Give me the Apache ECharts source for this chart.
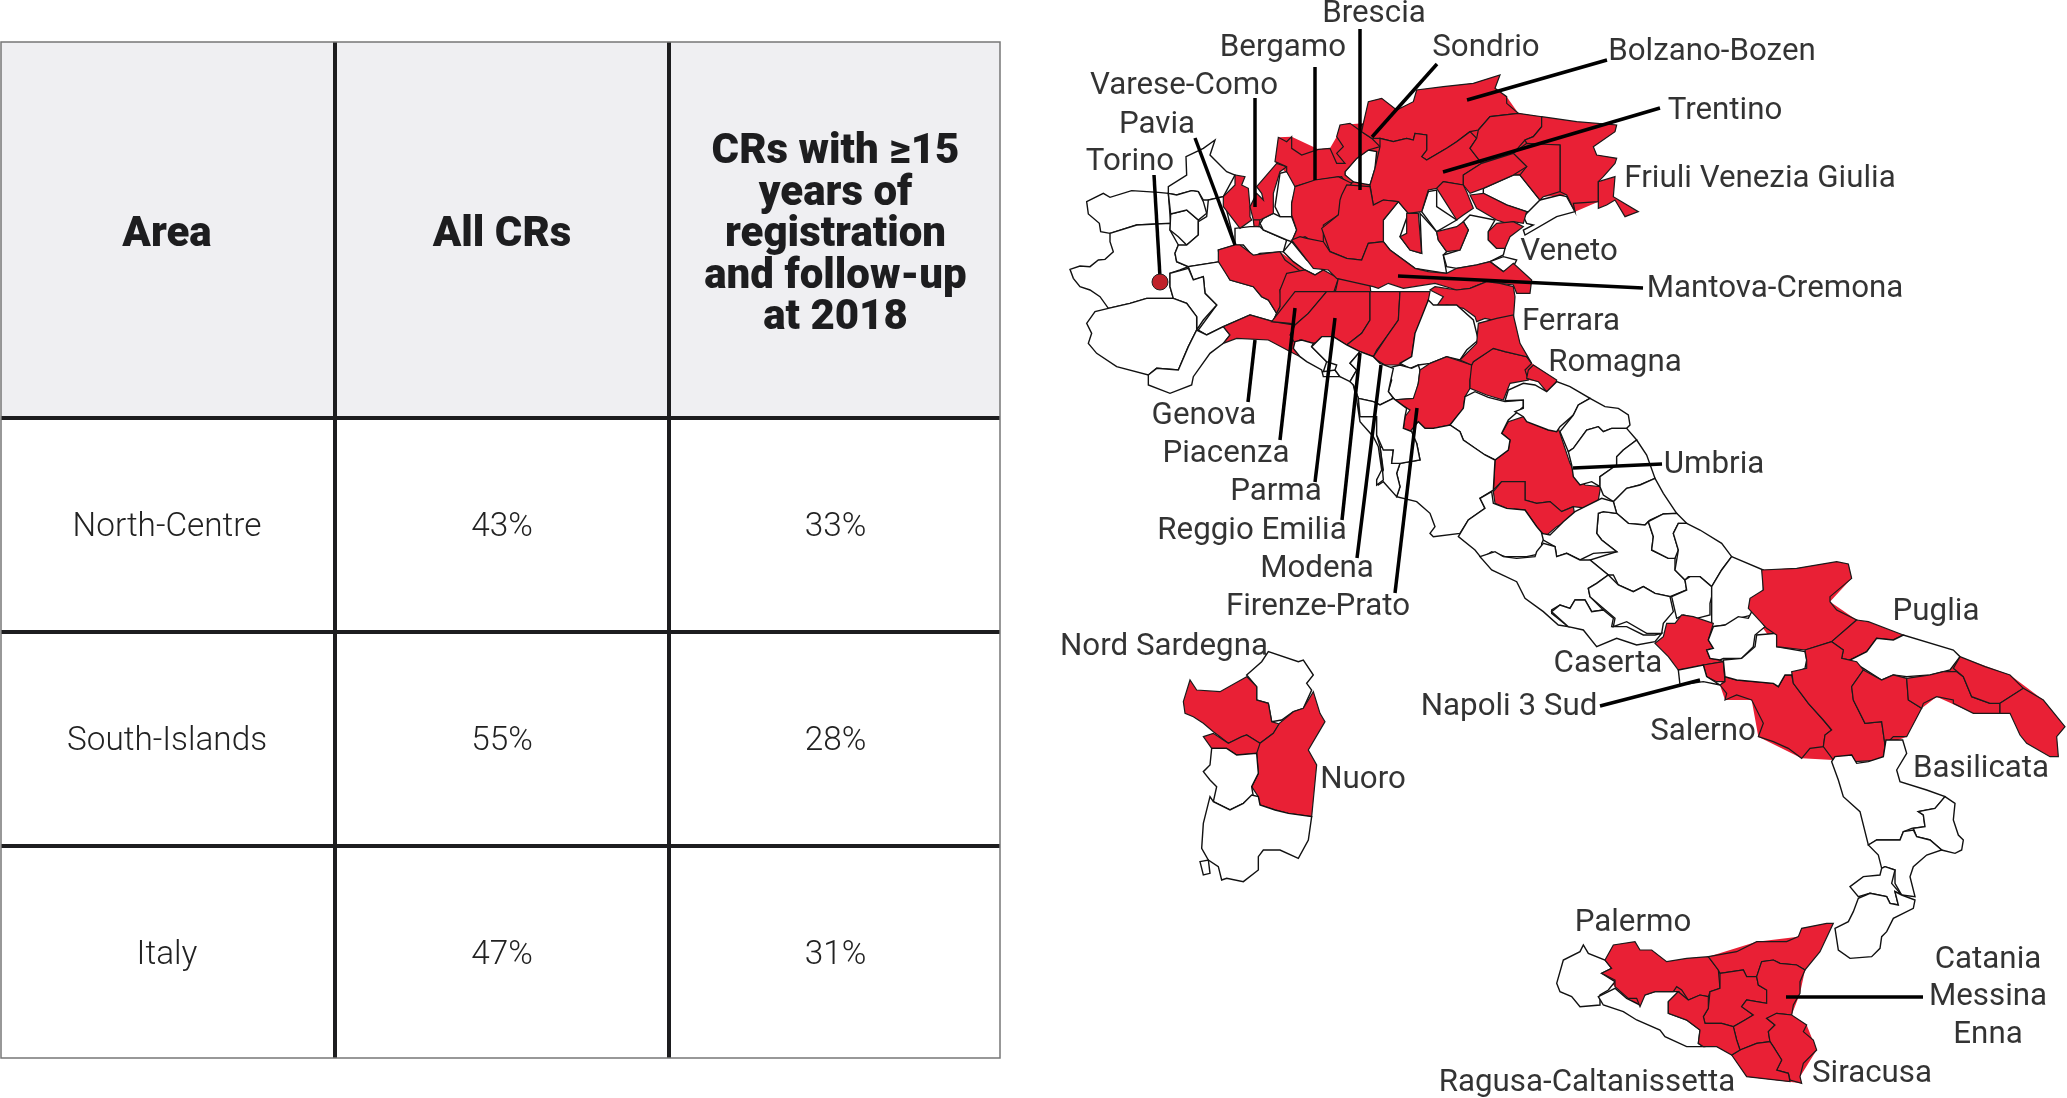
<!DOCTYPE html>
<html>
<head>
    <meta charset="utf-8">
    <title>ECharts</title>
    <script type="text/javascript" src="https://cdn.jsdelivr.net/npm/echarts@6/dist/echarts.min.js"></script>
    <style>html,body{margin:0;padding:0;background:#fff}</style>
</head>
<body>
    <div id="main" style="width:2067px;height:1098px;"></div>
    <script type="text/javascript">
        // table
        var cornerTitle = 'Area';
        var columnTitles = ['All CRs', 'CRs with ≥15\nyears of\nregistration\nand follow-up\nat 2018'];
        var rowTitles = ['North-Centre', 'South-Islands', 'Italy'];
        var allCRs = ['43%', '55%', '47%'];
        var longCRs = ['33%', '28%', '31%'];

        // areas with a cancer registry, painted red
        var redAreas = ['Varese', 'Como', 'Lecco', 'Sondrio', 'Bergamo', 'Brescia', 'Bolzano', 'Trento', 'Belluno',
            'Friuli', 'Trieste', 'Pordenone', 'Treviso', 'Vicenza', 'Padova', 'Venezia', 'Rovigo', 'Garda',
            'Pavia', 'Piacenza', 'Parma2', 'Genova', 'Cremona', 'Ferrara', 'Ravenna', 'Forli', 'Rimini',
            'Parma', 'Reggio', 'Modena', 'Bologna', 'Firenze', 'Perugia', 'Terni', 'Caserta', 'Napoli3',
            'Salerno', 'Foggia', 'Barletta', 'Potenza', 'Matera', 'Taranto', 'Brindisi', 'Lecce',
            'Palermo', 'Messina', 'Enna', 'CataniaArea', 'SiracusaArea', 'RagusaArea', 'Caltanissetta',
            'Sassari', 'Oristano', 'NuoroArea'];
        // red fill under the provinces, so no slits show between neighbours
        var redBases = ['BaseNord', 'BasePadana', 'BaseEmilia', 'BaseRomagna', 'BaseSud', 'BaseSicilia'];

        // map labels, anchors in map units
        var labelNames = ['Brescia', 'Bergamo', 'Sondrio', 'Bolzano-Bozen', 'Varese-Como', 'Trentino', 'Pavia', 'Torino',
            'Friuli Venezia Giulia', 'Veneto', 'Mantova-Cremona', 'Ferrara', 'Romagna', 'Genova', 'Umbria', 'Piacenza',
            'Parma', 'Reggio Emilia', 'Modena', 'Firenze-Prato', 'Puglia', 'Nord Sardegna', 'Caserta', 'Napoli 3 Sud',
            'Salerno', 'Basilicata', 'Nuoro', 'Palermo', 'Catania', 'Messina', 'Enna', 'Siracusa', 'Ragusa-Caltanissetta'];
        var labelSpots = [[1374, 12], [1283, 46], [1486, 46], [1712, 50], [1184, 84], [1725, 109], [1157, 123], [1130, 160],
            [1760, 177], [1569, 250], [1775, 287], [1571, 320], [1615, 361], [1204, 414], [1714, 463], [1226, 452],
            [1276, 490], [1252, 529], [1317, 567], [1318, 605], [1936, 610], [1164, 645], [1608, 662], [1509, 705],
            [1703, 730], [1981, 767], [1363, 778], [1633, 921], [1988, 958], [1988, 995], [1988, 1033], [1872, 1072], [1587, 1081]];
        // leader lines
        var leaderEnds = [
            [[1255, 98], [1255, 207]], [[1195, 138], [1235, 245]], [[1154, 175], [1160, 277]],
            [[1315, 67], [1315, 180]], [[1360, 29], [1360, 190]], [[1437, 64], [1372, 137]],
            [[1607, 60], [1467, 100]], [[1660, 108], [1443, 172]], [[1398, 276], [1643, 288]],
            [[1255, 340], [1248, 402]], [[1295, 308], [1280, 440]], [[1335, 318], [1315, 482]],
            [[1360, 353], [1342, 520]], [[1381, 365], [1357, 558]], [[1417, 408], [1395, 593]],
            [[1573, 468], [1662, 464]], [[1600, 706], [1700, 680]], [[1786, 997], [1923, 997]]
        ];
        var torinoSpot = [1160, 282];

        var outlineGroups = [
            [1300, 60, {
                BaseNord: '-40,340 -75,305 -65,232 -25,230 55,268 90,265 110,230 120,195 190,190 205,125 245,115 290,150 340,125 350,90 430,80 520,70 600,45 585,85 620,110 655,160 725,170 830,185 950,195 945,215 880,260 890,285 950,295 895,365 895,425 825,455 800,405 730,410 660,345 550,385 510,400 490,375 430,365 410,385 385,390 365,455 325,460 295,425 220,435 250,480 250,545 205,550 185,600 90,575 -25,540 -25,430 -15,380'
            }],
            [1060, 60, {
                BasePadana: '475,570 580,585 660,575 735,630 835,655 930,675 935,720 860,840 880,880 800,830 710,800 705,840 720,890 625,840 530,835 490,850 510,825 490,800 570,765 640,785 650,760 665,730 660,690 625,720 580,680 510,660'
            }],
            [1180, 300, {
                BaseEmilia: '275,65 300,-20 750,-20 725,50 705,100 695,170 660,195 590,180 540,155 500,135 460,110 400,130 345,130 330,70',
                BaseRomagna: '840,180 890,130 895,70 950,55 1000,45 1020,130 1055,190 1130,240 1125,265 1100,275 1075,245 1045,240 990,250 970,300 870,265 855,290 850,325 810,375 735,385 695,395 670,385 690,330 640,300 700,295 720,210 750,190 800,170'
            }],
            [1560, 540, {
                BaseSud: '605,90 710,85 830,65 865,72 875,115 810,185 890,240 815,305 850,330 845,355 910,390 965,420 1040,415 1170,390 1200,350 1350,405 1450,480 1515,560 1490,590 1495,650 1400,610 1350,520 1240,520 1130,470 1085,505 1040,590 975,615 970,660 820,660 725,655 595,590 575,480 495,480 480,435 495,410 640,430 675,405 740,385 735,330 650,320 565,205 610,150'
            }],
            [1540, 760, {
                BaseSicilia: '195,600 220,555 285,545 300,570 335,570 380,605 505,590 650,545 775,530 785,505 880,490 795,630 780,700 755,765 800,795 830,870 780,950 785,970 620,950 575,885 530,860 490,860 480,810 440,780 385,760 385,725 415,695 345,695 300,740 265,715 225,680 185,640 215,625'
            }],
            [1060, 60, {
                Aosta: '80,425 130,400 150,412 215,392 295,397 325,400 332,490 230,495 150,520 122,515 118,490 85,462',
                Torino: '150,520 230,495 332,490 330,510 355,555 345,580 350,605 385,620 360,630 330,640 330,680 340,715 260,715 210,730 145,745 120,710 90,690 60,680 40,655 30,628 60,618 90,620 115,600 135,598 160,575 150,545',
                Verbano: '325,400 325,380 380,345 378,290 430,265 465,240 450,285 500,335 525,345 490,410 445,420 430,420 415,395 395,392 350,405',
                Biella: '332,462 380,450 415,480 415,525 380,555 355,530 330,510',
                Novara: '325,400 350,405 395,392 415,395 430,425 440,460 415,480 380,450 332,462',
                Vercelli: '355,555 380,555 415,525 415,485 440,470 445,420 490,410 525,555 475,570 480,605 385,620 350,605 345,580',
                Alessandria: '385,620 480,605 510,660 580,680 605,710 625,720 650,760 640,785 570,765 490,800 440,825 415,810 470,735 435,700 430,650 400,660',
                Asti: '330,640 385,625 400,660 430,650 435,700 470,735 430,780 410,810 410,770 380,730 340,715 330,680',
                Cuneo: '80,790 105,755 145,745 210,730 260,715 340,715 380,730 410,770 410,810 385,860 355,930 290,925 265,945 170,920 110,880 85,850 95,820',
                Imperia: '265,945 290,925 355,930 385,860 410,810 440,825 490,800 510,825 490,850 450,880 400,950 395,975 330,1000 265,975',
                Milano: '525,505 570,500 600,500 610,510 680,540 670,575 600,580 580,590 550,555 525,555',
                Lodi: '600,490 610,475 640,460 660,470 695,470 710,510 695,545 680,540 610,510',
                Lario: '645,440 660,340 680,335 710,375 695,430 695,470 660,470',
                Cremasco: '670,575 695,545 740,600 790,630 765,645 735,630 700,605',
                Varese: '490,410 525,375 525,345 555,350 545,375 565,385 570,440 570,470 575,480 540,505 490,440',
                Como: '590,380 650,310 680,320 660,335 640,400 640,460 600,480 580,480 570,440 590,400 610,420 605,400',
                Lecco: '580,480 600,480 597,500 582,498',
                Pavia: '475,570 525,555 540,555 580,585 660,575 675,600 730,640 690,640 660,690 665,730 650,760 625,720 605,710 580,680 510,660 475,605',
                Piacenza: '680,640 735,630 765,645 790,630 835,655 820,700 775,740 740,770 705,795 640,780 660,740 660,690',
                Parma2: '835,655 885,660 930,675 935,720 890,780 860,840 880,880 800,830 750,830 710,800 740,770 780,735 825,700',
                Genova: '490,800 570,765 640,785 700,795 705,840 720,890 700,880 625,840 530,835 490,850 510,825'
            }],
            [1300, 60, {
                Verona: '250,480 295,425 325,460 300,530 330,570 365,580 360,460 410,515 415,540 440,575 430,585 440,640 345,625 270,570 250,545',
                Vicentino: '365,455 385,395 410,390 410,440 470,480 410,515',
                Padovano: '430,585 480,570 505,510 490,485 510,465 585,480 565,515 565,540 590,565 615,565 610,585 570,605 530,615 470,625 440,620',
                Laguna: '550,385 640,345 660,345 720,420 715,455 680,455 620,435 550,400',
                Costa: '670,470 720,420 780,405 800,410 825,455 770,470 675,525 670,510 700,495 680,490',
                Delta: '570,605 610,590 650,600 640,620 610,635',
                Lago: '135,335 170,295 205,270 230,275 225,325 210,375 155,365 135,345',
                Isola: '185,195 205,185 210,210 195,215',
                Sondrio: '-75,305 -65,232 -40,245 -25,230 -25,265 5,285 55,268 90,265 110,310 135,310 110,280 130,260 110,230 120,195 150,190 185,215 215,235 240,260 205,270 170,295 135,335 135,345 160,365 140,375 125,350 50,360 -15,380 -40,335 -40,320',
                Bolzano: '190,190 205,125 245,115 290,150 340,125 350,90 430,80 520,70 600,45 585,85 620,110 620,130 655,160 570,170 535,210 510,215 470,245 440,265 380,300 365,290 380,270 380,225 345,220 340,240 320,235 280,245 240,235 215,235 185,215',
                Trento: '240,235 280,245 320,235 340,240 345,220 380,225 380,270 365,290 380,300 440,265 470,245 510,215 530,235 510,265 545,310 490,345 490,375 430,365 410,385 385,390 365,455 325,460 295,425 250,420 220,435 210,375 225,325 240,260',
                Belluno: '535,210 570,170 655,160 725,170 725,200 700,230 675,240 640,280 545,310 510,265 530,235',
                Friuli: '725,170 830,185 950,195 945,215 880,260 890,285 950,295 945,310 910,350 895,365 895,425 820,430 825,455 800,405 780,395 780,255 740,255 680,250 675,240 700,230 725,200',
                Trieste: '895,365 945,350 940,410 1015,455 975,470 945,420 920,435 895,445',
                Pordenone: '640,280 680,250 780,255 780,395 730,410 720,420 660,345 680,320',
                Treviso: '490,345 545,310 640,280 680,320 640,345 550,385 510,400 490,375',
                Vicenza: '410,385 430,365 490,375 500,395 520,445 490,465 470,480 445,440',
                Padova: '510,405 550,400 620,435 680,455 670,490 640,485 620,490 590,480 530,445',
                Venezia: '565,515 590,490 640,485 670,500 630,530 615,565 590,565 565,540',
                Rovigo: '410,515 470,500 490,485 505,510 480,570 440,575 415,540',
                Garda: '320,460 355,460 365,580 330,570 300,530 320,520',
                Bergamo: '-15,380 45,360 115,350 155,370 130,400 115,465 70,495 70,545 40,545 15,530 -25,545 -10,510 -25,465 -25,430',
                Brescia: '125,405 140,375 210,380 220,435 250,420 295,425 250,480 250,545 205,550 185,600 140,595 90,575 65,505 115,465 120,420',
                Cremona: '-25,540 0,530 20,535 70,545 90,575 140,595 185,600 205,550 250,545 270,570 345,625 385,635 440,640 470,625 530,615 570,605 610,635 640,610 695,660 690,700 650,700 640,675 600,670 560,665 510,685 470,690 405,670 310,685 265,670 235,685 220,680 110,655 85,630 40,625',
                Ferrara: '405,680 470,690 510,685 560,665 600,670 640,680 645,710 640,780 600,785 555,775 530,785 525,770 490,745 440,735 405,745 430,710 390,690'
            }],
            [1180, 300, {
                Parma: '275,65 345,-25 440,-25 385,40 345,75 330,70',
                Reggio: '345,75 385,40 440,-25 570,-25 570,60 545,100 500,135 460,110 400,130 360,120 345,130 330,105',
                Modena: '500,135 545,100 570,60 570,-25 660,-25 655,60 620,110 590,150 580,170 540,155',
                Bologna: '580,170 620,110 655,60 660,-25 750,-25 735,50 705,100 695,170 660,195 615,195 590,180',
                Bolognese: '725,50 745,0 760,15 830,15 880,60 890,100 895,120 860,150 840,180 800,170 750,190 715,195 690,205 660,190 695,170 705,100',
                Pistoia: '620,205 660,195 695,205 715,195 720,210 715,250 705,295 645,300 625,275 635,240',
                Firenze: '750,190 800,170 830,180 875,195 880,200 870,240 870,265 855,290 850,325 830,350 810,375 760,385 735,385 715,365 695,395 670,385 675,350 690,330 640,300 700,295 715,250 720,210',
                Forli: '875,195 880,185 940,145 975,155 1040,170 1055,190 1035,210 1045,240 990,250 970,300 920,285 870,265 870,240',
                Rimini: '1045,210 1060,195 1130,240 1125,265 1100,275 1075,245 1040,235',
                Ravenna: '840,180 890,130 895,70 950,55 1000,45 1020,130 1055,190 1040,170 975,155 940,145 880,185 875,195',
                Perugia: '965,400 985,365 1030,350 1045,365 1105,390 1135,385 1150,430 1170,490 1190,530 1215,555 1262,560 1255,600 1225,625 1180,620 1145,635 1110,605 1070,610 1035,600 1035,545 965,545 940,570 945,480 985,450 990,420',
                Terni: '940,575 965,545 1035,545 1035,600 1070,610 1110,605 1145,635 1180,620 1185,650 1130,680 1095,710 1070,680 1035,630 980,625 945,610',
                Arezzo: '810,375 830,350 850,325 855,290 885,275 925,292 975,305 1030,300 1030,320 985,360 965,400 990,420 985,450 945,480 915,465 885,445 850,420 840,395',
                Siena: '690,395 715,365 735,385 760,385 810,375 840,395 850,420 915,465 945,480 940,570 900,595 915,625 865,660 840,700 760,710 750,700 765,680 750,640 710,605 650,590 660,560 650,520 660,490 720,480 710,430 695,420',
                Grosseto: '600,440 640,450 635,490 660,490 650,520 660,560 650,590 610,545 595,555 590,540 610,510',
                Viterbo: '835,710 865,660 915,625 900,595 935,575 940,610 980,625 1035,630 1070,680 1095,710 1085,730 1085,760 1040,770 975,770 935,755 905,775 885,750',
                Massa: '345,125 365,120 400,130 395,140 440,185 430,215 465,210 480,230 430,230 425,210 380,185 360,170 340,145',
                Lucca: '395,140 425,110 460,110 500,135 540,155 510,190 530,210 510,245 480,230 465,210 470,195 440,185',
                Prato: '540,155 580,170 600,190 640,205 625,275 640,295 600,315 580,305 535,295 520,255 510,245 530,210 510,190',
                Livorno: '520,255 535,295 540,350 590,350 590,405 600,440 605,480 610,540 590,555 590,540 605,510 595,440 580,410 540,365 530,300',
                Pisa: '535,295 580,305 600,315 640,295 680,325 675,350 670,385 695,395 710,430 720,480 660,490 635,490 640,450 610,450 590,405 590,350 540,350'
            }],
            [1480, 370, {
                Pesaro: '75,92 85,60 130,40 165,45 200,65 230,35 270,50 330,85 295,105 280,135 240,170 230,185 205,180 140,155 130,140 105,125 130,115 130,90',
                Ancona: '330,85 375,110 415,115 445,135 450,165 440,175 395,175 370,185 355,170 320,180 280,235 265,245 240,185 280,135 295,105',
                Macerata: '265,245 280,235 320,180 355,170 370,185 395,175 440,175 470,210 430,240 410,260 410,285 360,320 360,350 335,335 300,345 280,320 275,285',
                Ascoli: '470,210 500,255 525,325 480,345 440,355 400,395 370,375 360,350 360,320 410,285 410,260 430,240',
                Teramo: '525,325 550,370 590,430 550,432 510,450 495,465 445,460 410,430 400,395 440,355 480,345',
                Aquila: '355,430 370,425 410,430 445,460 495,465 505,455 520,500 515,540 565,565 585,565 585,600 615,630 620,660 570,680 525,670 490,650 460,665 415,645 400,615 385,615 330,570 410,545 365,510 350,490',
                Rieti: '285,425 365,385 400,395 410,430 370,425 355,430 350,490 365,510 410,545 340,550 300,570 260,550 230,560 225,530 190,510 185,490 210,495 250,455',
                Chieti: '505,455 550,432 590,430 620,460 595,460 580,490 595,540 585,565 565,565 515,540 520,500',
                Campobasso: '620,460 660,480 725,520 755,560 725,600 695,650 660,620 625,620 615,630 585,600 595,540 580,490 595,460',
                Isernia: '615,630 630,620 660,620 695,650 695,680 690,700 690,735 650,745 610,735 590,745 575,680 620,660',
                Daunia: '755,560 850,600 850,660 825,690 810,700 835,730 775,745 740,765 695,770 695,735 695,650 725,600',
                Roma: '0,560 45,545 70,560 110,565 165,560 170,545 190,520 225,530 230,560 260,550 300,570 330,570 385,615 350,640 325,655 330,680 370,720 335,725 315,690 285,690 270,715 240,705 215,720 215,730 265,770 235,765 190,725 135,685 110,635 35,600',
                Latina: '215,725 240,705 270,715 285,690 315,690 335,725 370,720 400,745 395,770 440,770 490,795 525,795 545,790 525,815 470,825 410,805 350,830 310,780 265,770',
                Frosinone: '325,655 350,640 385,615 415,645 460,665 490,650 525,670 570,680 580,725 550,760 545,790 500,790 440,755 400,770 405,745 370,715 330,680'
            }],
            [1560, 540, {
                Caserta: '285,310 310,290 320,250 345,250 365,225 400,230 460,250 445,300 460,325 440,330 450,355 480,360 490,365 430,375 385,385 355,390 325,350',
                Napoli3: '430,375 490,365 495,425 470,425 440,410',
                Napoli: '355,390 430,375 440,410 480,435 430,425 360,435',
                Salerno: '480,435 495,425 495,410 530,420 640,430 655,440 675,405 695,405 700,430 730,470 745,490 790,540 815,570 795,585 790,620 750,625 725,655 685,625 640,605 595,590 610,550 575,480 530,465 495,480 500,460',
                Benevento: '460,260 495,255 535,230 565,235 580,205 615,260 585,285 580,320 545,355 490,355 480,360 450,355 440,330 460,325 445,300',
                Avellino: '490,360 545,355 585,320 590,285 650,280 650,320 735,335 740,360 735,385 695,405 675,405 655,440 640,430 530,420 495,410',
                Foggia: '605,90 710,85 830,65 865,72 875,115 810,170 810,185 830,210 890,240 815,305 735,330 650,320 650,285 620,265 565,205 570,175 610,150',
                Barletta: '890,240 925,245 1030,285 1000,300 950,295 920,335 870,360 845,355 850,330 815,305',
                Bari: '870,360 920,335 950,295 1000,300 1030,285 1180,330 1200,350 1170,390 1150,395 1110,405 1040,410 1000,405 965,420 910,385',
                Potenza: '735,330 815,305 850,330 845,355 890,365 910,390 875,440 880,480 915,550 965,545 975,615 970,660 885,665 875,645 820,660 790,620 795,585 815,570 790,540 745,490 730,470 700,430 695,395 740,385 740,360',
                Matera: '910,390 965,420 1000,405 1040,415 1045,480 1085,505 1040,590 1000,590 975,615 965,545 915,550 880,480 875,440',
                Taranto: '1040,415 1110,405 1150,395 1190,395 1210,410 1235,470 1290,490 1320,490 1320,520 1240,520 1180,490 1180,480 1130,470 1090,490 1085,505 1045,480',
                Brindisi: '1200,350 1275,380 1350,405 1390,445 1320,490 1290,490 1235,470 1210,410 1180,385',
                Lecce: '1390,445 1450,480 1515,560 1490,590 1495,650 1470,650 1400,610 1380,585 1350,520 1320,520 1320,490'
            }],
            [1780, 740, {
                Cosenza: '155,65 175,120 190,170 240,215 265,315 290,300 360,300 370,275 395,265 435,260 430,225 415,215 465,205 495,170 440,150 360,125 350,90 380,40 368,0 318,0 310,50 265,65 230,70 215,45 165,50',
                Crotone: '495,170 525,190 520,240 535,285 550,300 545,330 525,340 485,330 450,300 410,290 400,265 435,260 430,225 415,215 465,205',
                Catanzaro: '265,315 290,300 360,300 370,275 400,270 410,290 450,300 485,330 440,345 400,380 390,410 405,470 365,465 345,430 345,390 315,380 305,385 295,345',
                Vibo: '210,440 250,410 300,405 305,385 315,380 345,390 335,430 365,465 345,455 355,495 330,490 320,470 270,460 235,470',
                Reggina: '165,565 205,545 220,515 235,475 270,460 320,470 330,490 355,495 345,455 365,465 405,480 400,505 340,535 320,575 305,590 300,625 275,650 210,655 175,630'
            }],
            [1540, 760, {
                Trapani: '50,670 70,600 120,575 130,555 145,580 195,600 215,625 185,640 225,665 205,690 180,705 180,735 120,740 95,710 60,695',
                Agrigento: '175,710 225,685 260,715 300,735 300,710 345,695 415,695 385,725 385,760 440,780 480,810 475,850 490,860 440,860 375,830 360,810 290,780 250,755 190,735',
                Palermo: '195,600 220,555 285,545 300,570 335,570 380,605 440,595 505,590 535,630 540,685 510,695 505,710 480,705 445,720 425,690 410,680 400,695 345,695 315,705 300,740 290,715 265,715 225,680 225,660 185,640 215,625',
                Messina: '505,590 590,575 650,545 740,545 775,530 785,505 860,490 880,490 840,575 795,630 770,615 720,610 700,600 665,605 650,650 620,650 610,630 540,640 535,630',
                Enna: '540,640 610,630 620,650 650,650 655,675 680,690 680,730 620,720 605,740 640,765 615,780 580,800 545,790 495,790 490,770 505,745 510,695 540,685',
                CataniaArea: '665,605 700,600 720,610 770,615 795,630 780,665 780,700 760,735 755,765 710,760 680,775 705,795 685,815 690,845 650,850 600,870 590,840 580,800 615,780 640,765 605,740 620,720 680,730 680,690 655,675 650,650',
                SiracusaArea: '710,760 755,765 800,795 790,815 820,840 830,870 790,910 780,950 785,970 750,960 745,940 710,930 725,900 700,860 690,845 685,815 705,795 680,775',
                RagusaArea: '575,885 600,870 650,850 690,845 700,860 725,900 710,930 745,940 750,965 620,950',
                Caltanissetta: '385,725 415,695 445,720 480,705 505,710 505,745 490,770 495,790 545,790 580,800 590,840 600,870 575,885 530,860 490,860 475,850 480,810 440,780 385,760'
            }],
            [1160, 640, {
                Gallura: '260,105 305,65 325,35 415,65 430,60 460,105 440,130 455,150 430,205 400,215 365,240 335,245 325,190 290,180 290,140',
                Sassari: '70,185 90,120 110,150 180,155 260,110 290,140 290,180 325,190 335,245 358,252 340,280 300,310 260,285 205,310 180,290 160,275 130,250 100,230 75,220',
                Oristano: '130,290 160,280 205,310 245,290 260,285 300,310 300,340 230,345 200,325 155,325',
                NuoroArea: '300,310 340,280 358,250 400,215 430,205 460,155 480,220 495,245 445,330 470,375 455,530 385,520 345,510 300,495 295,470 275,440 295,400 290,340',
                Arborea: '155,325 200,325 230,345 290,340 295,400 275,440 280,470 250,490 210,510 160,485 170,440 150,420 130,395 150,375',
                Cagliari: '150,470 160,485 210,510 250,490 275,465 295,470 300,495 345,510 385,520 455,530 445,600 415,655 360,630 310,630 295,650 295,690 250,725 200,715 185,720 175,680 145,660 125,625 130,550',
                Sulcis: '120,665 145,660 150,700 130,705'
            }]
        ];

        function toMap(p) {
            return [p[0], -p[1]];
        }

        function buildMap() {
            var features = [];
            outlineGroups.forEach(function (group) {
                Object.keys(group[2]).forEach(function (name) {
                    var ring = group[2][name].split(' ').map(function (pair) {
                        var xy = pair.split(',');
                        return toMap([group[0] + xy[0] / 3, group[1] + xy[1] / 3]);
                    });
                    ring.push(ring[0]);
                    features.push({
                        type: 'Feature',
                        properties: {name: name},
                        geometry: {type: 'Polygon', coordinates: [ring]}
                    });
                });
            });
            return {type: 'FeatureCollection', features: features};
        }

        echarts.registerMap('italy', buildMap());

        // a blank first line of the right height sets where the text starts in its cell
        function spaced(gap, text) {
            return '{' + gap + '| }\n' + text;
        }

        var bodyCells = [];
        rowTitles.forEach(function (row, i) {
            bodyCells.push({coord: [0, i], value: spaced('cell', allCRs[i])});
            bodyCells.push({coord: [1, i], value: spaced('cell', longCRs[i])});
        });

        var tableLine = {borderColor: '#1d1d1f', borderWidth: 4};
        var headStyle = {fontSize: 42, fontWeight: 900, color: '#1d1d1f', lineHeight: 41.5, fontFamily: 'Roboto',
            rich: {tall: {fontSize: 2, lineHeight: 173}, five: {fontSize: 2, lineHeight: 90}}};
        var cellStyle = {fontSize: 33.3, fontWeight: 300, color: '#222', lineHeight: 40, fontFamily: 'Roboto',
            rich: {cell: {fontSize: 2, lineHeight: 88}}};

        var option = {
            backgroundColor: '#fff',
            animation: false,
            textStyle: {fontFamily: 'Roboto'},
            matrix: {
                left: -1, top: 40, width: 1003, height: 1020,
                x: {
                    data: [spaced('tall', columnTitles[0]), spaced('five', columnTitles[1])],
                    levelSize: 378,
                    label: headStyle,
                    itemStyle: {color: '#efeff2', borderColor: tableLine.borderColor, borderWidth: tableLine.borderWidth},
                    dividerLineStyle: {color: tableLine.borderColor, width: 4}
                },
                y: {
                    data: rowTitles.map(function (row) { return spaced('cell', row); }),
                    levelSize: 336,
                    label: cellStyle,
                    itemStyle: {color: '#fff', borderColor: tableLine.borderColor, borderWidth: tableLine.borderWidth},
                    dividerLineStyle: {color: tableLine.borderColor, width: 4}
                },
                corner: {
                    data: [{coord: [-1, -1], value: spaced('tall', cornerTitle)}],
                    label: headStyle,
                    itemStyle: {color: '#efeff2', borderColor: tableLine.borderColor, borderWidth: tableLine.borderWidth}
                },
                body: {
                    data: bodyCells,
                    label: cellStyle,
                    itemStyle: {color: '#fff', borderColor: tableLine.borderColor, borderWidth: tableLine.borderWidth}
                },
                backgroundStyle: {borderWidth: 0}
            },
            graphic: [
                // the table's outer frame is thin and grey, unlike its inner lines
                {type: 'rect', z: 20, silent: true, shape: {x: -2.5, y: 38.5, width: 1006, height: 1023},
                    style: {fill: 'none', stroke: '#fff', lineWidth: 7}},
                {type: 'rect', z: 21, silent: true, shape: {x: 1, y: 42, width: 999, height: 1016},
                    style: {fill: 'none', stroke: '#777', lineWidth: 1.5}}
            ],
            geo: {
                map: 'italy',
                silent: true,
                aspectScale: 1,
                roam: false,
                boundingCoords: [toMap([1000, 0]), toMap([2067, 1098])],
                left: 1000, top: 0, width: 1067, height: 1098,
                itemStyle: {areaColor: '#fff', borderColor: '#111', borderWidth: 1.4},
                emphasis: {disabled: true},
                regions: redAreas.map(function (name) {
                    return {name: name, itemStyle: {areaColor: '#e92035', borderColor: '#1a1a1a', borderWidth: 1.2}};
                }).concat(redBases.map(function (name) {
                    return {name: name, itemStyle: {areaColor: '#e92035', borderWidth: 0}};
                }))
            },
            series: [
                {
                    type: 'lines',
                    coordinateSystem: 'geo',
                    silent: true,
                    z: 5,
                    lineStyle: {color: '#000', width: 3.5, opacity: 1, curveness: 0},
                    data: leaderEnds.map(function (seg) {
                        return {coords: seg.map(toMap)};
                    })
                },
                {
                    type: 'scatter',
                    coordinateSystem: 'geo',
                    silent: true,
                    z: 6,
                    symbolSize: 16,
                    itemStyle: {color: '#c0222a', borderColor: '#222', borderWidth: 1, opacity: 1},
                    data: [toMap(torinoSpot)]
                },
                {
                    type: 'scatter',
                    coordinateSystem: 'geo',
                    silent: true,
                    z: 7,
                    symbolSize: 0,
                    label: {
                        show: true,
                        position: 'inside',
                        formatter: '{b}',
                        fontFamily: 'Roboto',
                        fontSize: 31.3,
                        offset: [0, 2.5],
                        color: '#000'
                    },
                    data: labelNames.map(function (name, i) {
                        return {name: name, value: toMap(labelSpots[i])};
                    })
                }
            ]
        };
        echarts.init(document.getElementById('main')).setOption(option);
    </script>
</body>
</html>
